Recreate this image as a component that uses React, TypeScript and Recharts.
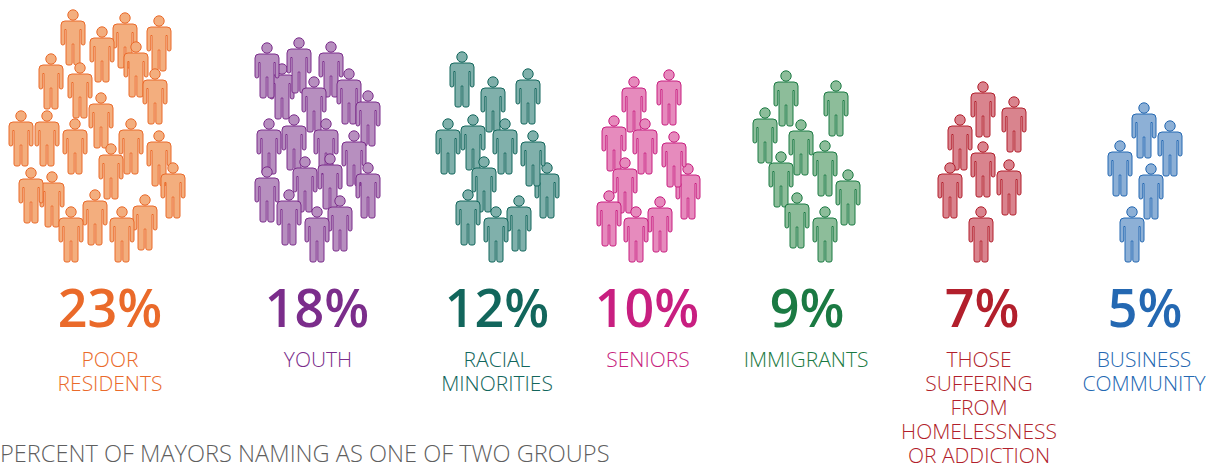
import { ScatterChart, Scatter, XAxis, YAxis } from "recharts";

const WIDTH = 1210;
const HEIGHT = 464;
const FONT = '"Open Sans", "Noto Sans", sans-serif';

// head centres of every figure, in draw order
const poorResidentsX = [73, 125, 102, 159, 136, 51, 80, 155, 101, 47, 21, 75, 131, 159, 173, 111, 52, 31, 95, 145, 71, 122];
const poorResidentsY = [15, 18, 32, 21, 47, 59, 68, 74, 98, 116, 116, 124, 124, 136, 168, 149, 177, 173, 195, 200, 212, 212];
const youthX = [282, 267, 299, 331, 349, 314, 368, 354, 269, 294, 326, 368, 267, 305, 330, 340, 289, 317];
const youthY = [69, 48, 43, 47, 74, 82, 96, 136, 124, 120, 124, 168, 172, 162, 159, 201, 195, 212];
const racialX = [462, 493, 528, 448, 473, 505, 547, 533, 484, 468, 519, 496];
const racialY = [57, 82, 74, 124, 120, 124, 168, 136, 162, 195, 201, 212];
const seniorsX = [669, 634, 614, 645, 688, 674, 625, 609, 660, 636];
const seniorsY = [75, 82, 121, 124, 169, 137, 163, 196, 202, 212];
const immigrantsX = [786, 836, 765, 801, 825, 781, 848, 797, 825];
const immigrantsY = [76, 86, 113, 125, 146, 157, 175, 198, 212];
const homelessX = [983, 1014, 960, 983, 1009, 950, 981];
const homelessY = [87, 102, 120, 147, 165, 168, 212];
const businessX = [1144, 1170, 1120, 1151, 1132];
const businessY = [108, 126, 146, 169, 212];

const percents = [23, 18, 12, 10, 9, 7, 5];
const percentCentersX = [110, 317, 497, 647, 807, 982, 1145];
const labels = [
  ["POOR", "RESIDENTS"],
  ["YOUTH"],
  ["RACIAL", "MINORITIES"],
  ["SENIORS"],
  ["IMMIGRANTS"],
  ["THOSE", "SUFFERING", "FROM", "HOMELESSNESS", "OR ADDICTION"],
  ["BUSINESS", "COMMUNITY"],
];
const labelCentersX = [110, 318, 497, 648, 806, 979, 1144];
const percentBaselineY = 327;
const labelBaselineY = 367;
const strokes = ["#ea6a2a", "#7b2d8b", "#12665c", "#c81f80", "#1b7a43", "#b21f2c", "#2468b2"];
const fills = ["#f3ae7e", "#b78fbf", "#80b0ab", "#e68bbd", "#8dbd9a", "#d9848e", "#8db0d6"];

const zip = (xs: number[], ys: number[]) => xs.map((x, i) => ({ x, y: ys[i] }));

const groups = [
  zip(poorResidentsX, poorResidentsY),
  zip(youthX, youthY),
  zip(racialX, racialY),
  zip(seniorsX, seniorsY),
  zip(immigrantsX, immigrantsY),
  zip(homelessX, homelessY),
  zip(businessX, businessY),
];

const percentRows = percents.map((percent, i) => ({
  x: percentCentersX[i],
  y: percentBaselineY,
  percent,
  color: strokes[i],
}));

const labelRows = labels.flatMap((lines, i) =>
  lines.map((line, row) => ({
    x: labelCentersX[i],
    y: labelBaselineY + row * 24,
    line,
    color: strokes[i],
  })),
);

// silhouette of one figure, drawn around its head centre
const BODY =
  "M-8,6 H8 Q12,6 12,10 V28 Q12,30 10.2,30 Q8.2,30 8.2,28 V14.5 H7 V48 Q7,50 5,50 H2.8 Q0.8,50 0.8,48 V29 H-0.8 V48 Q-0.8,50 -2.8,50 H-5 Q-7,50 -7,48 V14.5 H-8.2 V28 Q-8.2,30 -10.2,30 Q-12,30 -12,28 V10 Q-12,6 -8,6 Z";

function Person({ cx, cy, fill, stroke }: any) {
  return (
    <g transform={`translate(${cx},${cy})`} fill={fill} stroke={stroke} strokeWidth={1}>
      <circle r={5.2} />
      <path d={BODY} strokeLinejoin="round" />
    </g>
  );
}

function PercentText({ cx, cy, payload }: any) {
  return (
    <text x={cx} y={cy} fontFamily={FONT} textAnchor="middle" fill={payload.color} fontSize={52} fontWeight={600}>
      {payload.percent}%
    </text>
  );
}

function LabelText({ cx, cy, payload }: any) {
  return (
    <text x={cx} y={cy} fontFamily={FONT} textAnchor="middle" fill={payload.color} fontSize={21} fontWeight={300}>
      {payload.line}
    </text>
  );
}

export default function App() {
  return (
    <div style={{ position: "absolute", left: 0, top: 0, width: WIDTH, height: HEIGHT, background: "#fff" }}>
      <ScatterChart width={WIDTH} height={HEIGHT} margin={{ top: 0, right: 0, bottom: 0, left: 0 }}>
        <XAxis type="number" dataKey="x" domain={[0, WIDTH]} hide />
        <YAxis type="number" dataKey="y" domain={[0, HEIGHT]} reversed hide />
        {groups.map((data, i) => (
          <Scatter
            key={i}
            data={data}
            isAnimationActive={false}
            shape={(props: any) => <Person {...props} fill={fills[i]} stroke={strokes[i]} />}
          />
        ))}
        <Scatter data={percentRows} isAnimationActive={false} shape={PercentText} />
        <Scatter data={labelRows} isAnimationActive={false} shape={LabelText} />
      </ScatterChart>
      <div
        style={{
          position: "absolute",
          left: 0,
          top: 437,
          fontFamily: FONT,
          fontSize: 23.6,
          fontWeight: 300,
          lineHeight: "32px",
          color: "#5f5f5f",
          whiteSpace: "nowrap",
        }}
      >
        PERCENT OF MAYORS NAMING AS ONE OF TWO GROUPS
      </div>
    </div>
  );
}
